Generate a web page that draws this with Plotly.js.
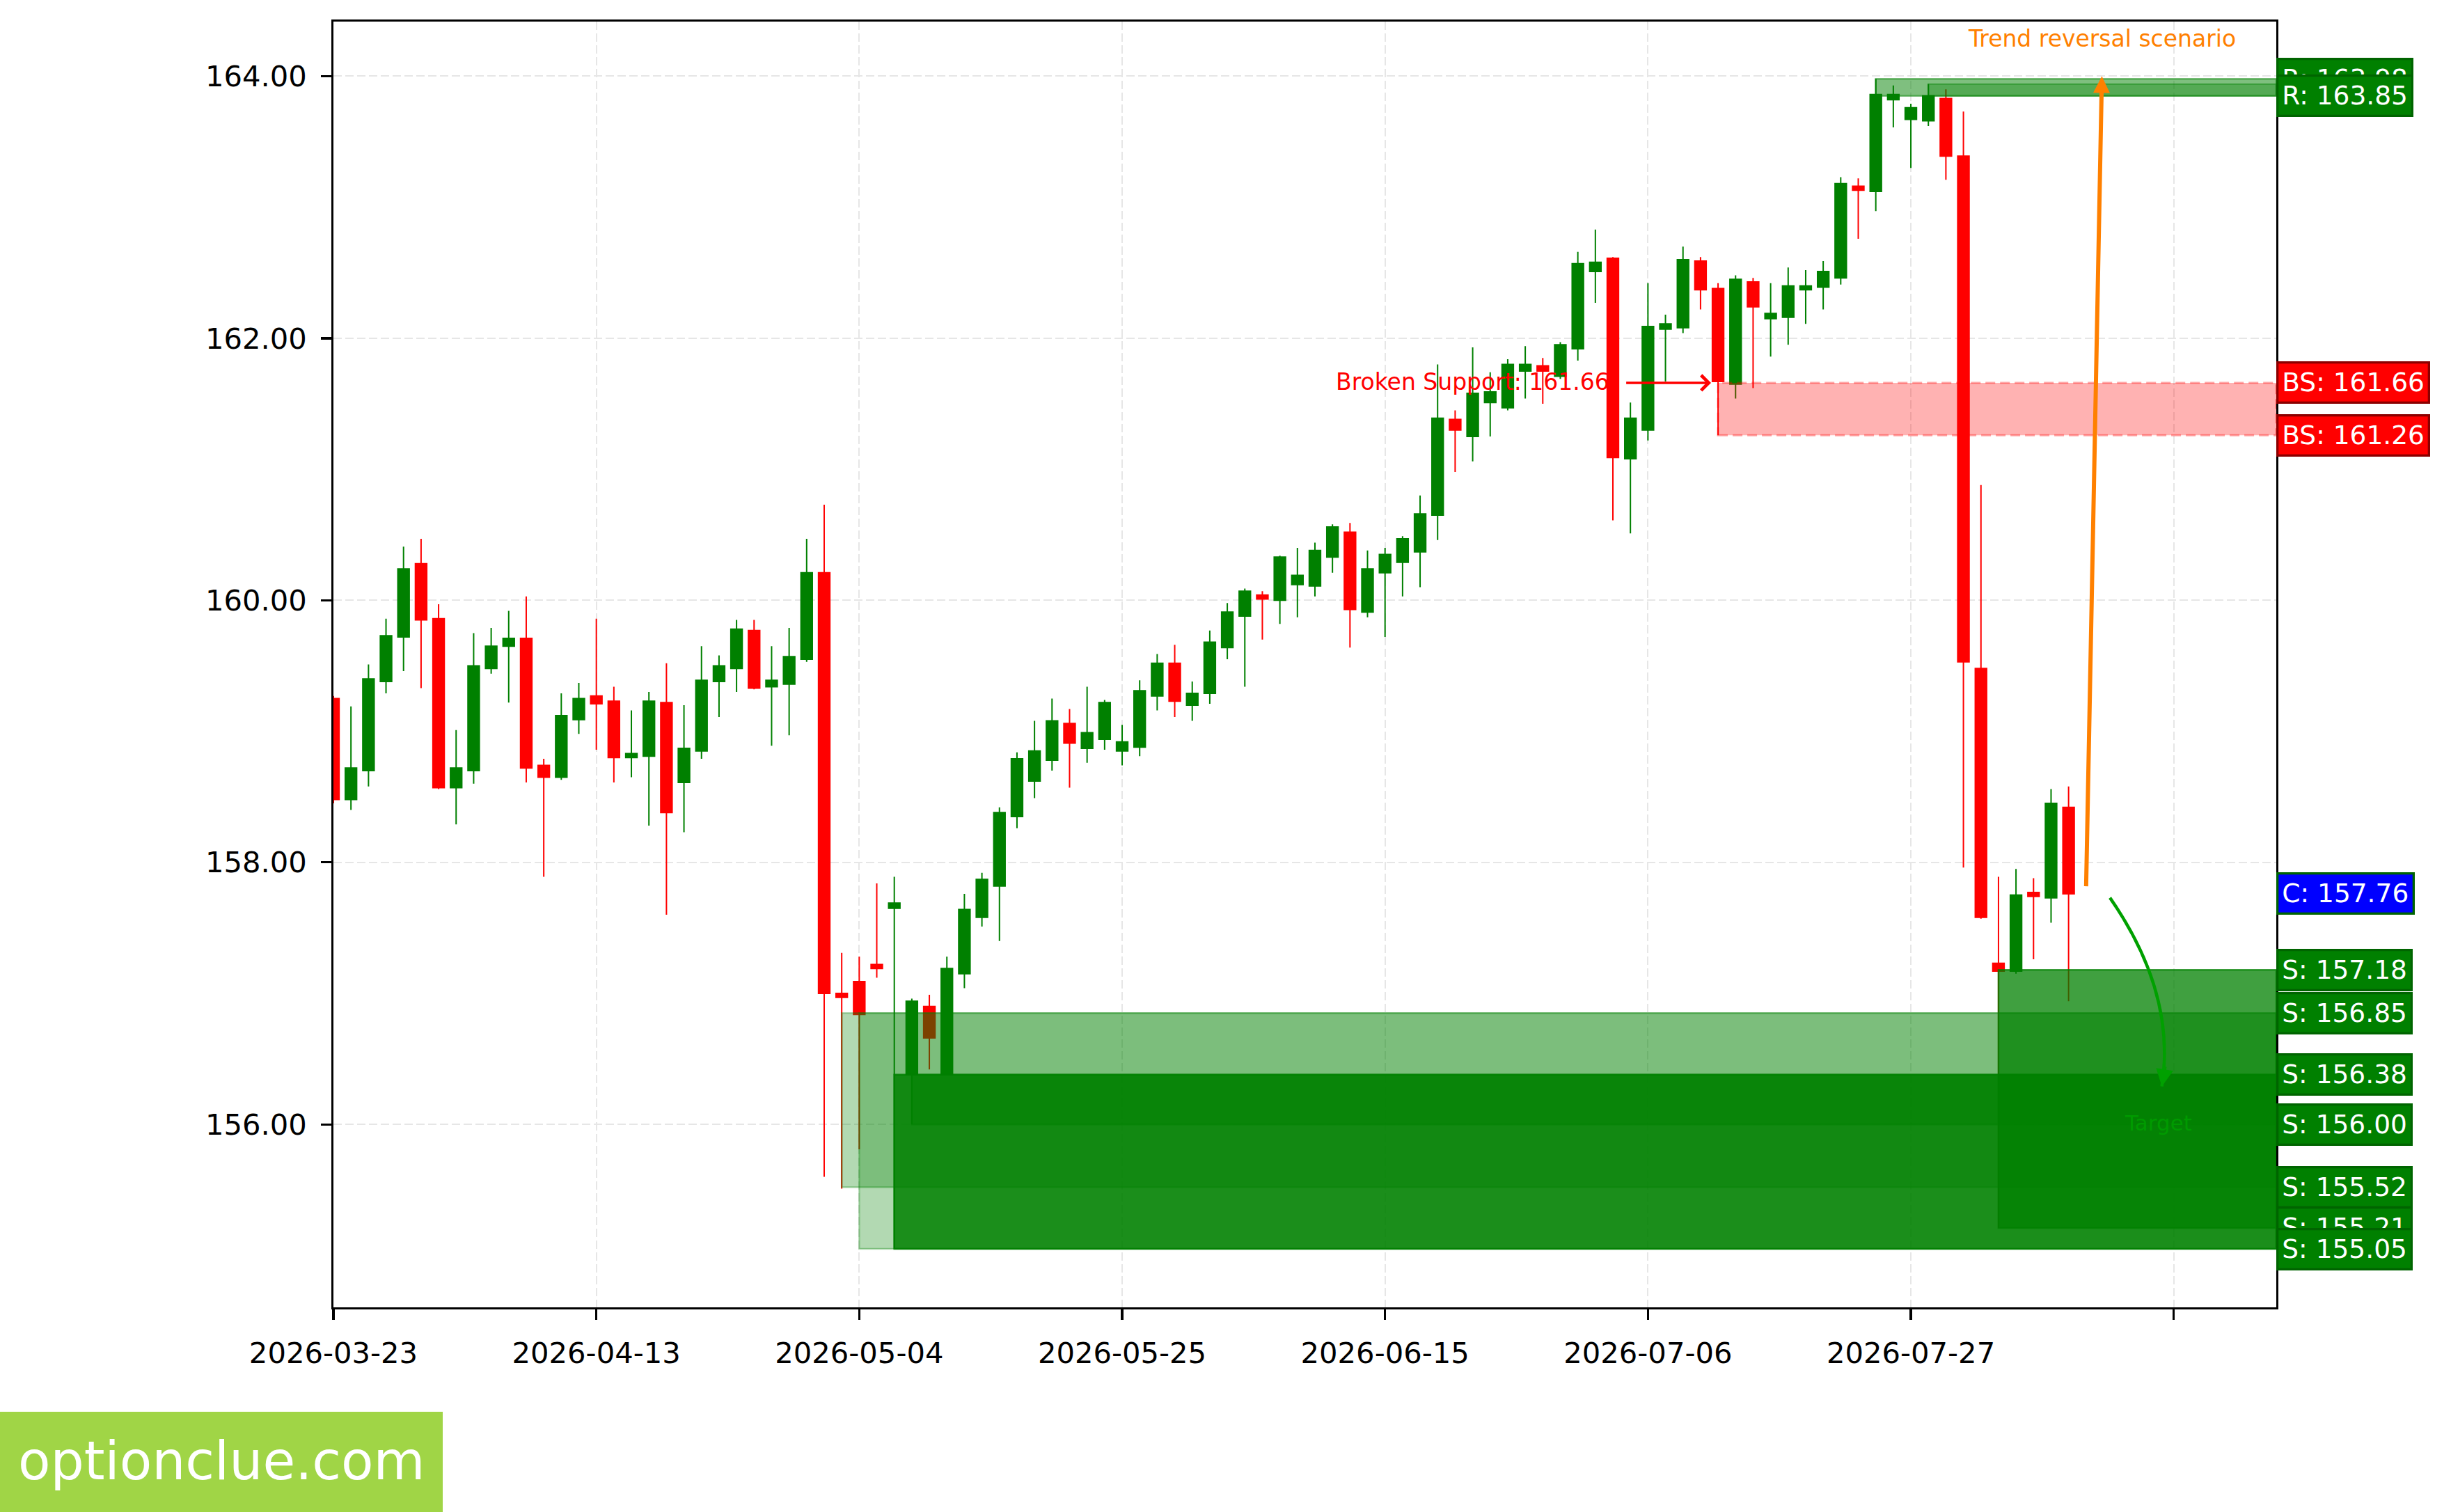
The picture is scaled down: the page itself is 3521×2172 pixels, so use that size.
<!DOCTYPE html>
<html>
<head>
<meta charset="utf-8">
<script src="https://cdn.plot.ly/plotly-3.0.1.min.js"></script>
<style>
  html, body { margin: 0; padding: 0; background: #ffffff; }
  #plot { width: 3521px; height: 2172px; }
</style>
</head>
<body>
<div id="plot"></div>
<script>
// ---------------- DATA ----------------
const dates = [
  '2026-03-23','2026-03-24','2026-03-25','2026-03-26','2026-03-27',
  '2026-03-30','2026-03-31','2026-04-01','2026-04-02','2026-04-03',
  '2026-04-06','2026-04-07','2026-04-08','2026-04-09','2026-04-10',
  '2026-04-13','2026-04-14','2026-04-15','2026-04-16','2026-04-17',
  '2026-04-20','2026-04-21','2026-04-22','2026-04-23','2026-04-24',
  '2026-04-27','2026-04-28','2026-04-29','2026-04-30','2026-05-01',
  '2026-05-04','2026-05-05','2026-05-06','2026-05-07','2026-05-08',
  '2026-05-11','2026-05-12','2026-05-13','2026-05-14','2026-05-15',
  '2026-05-18','2026-05-19','2026-05-20','2026-05-21','2026-05-22',
  '2026-05-25','2026-05-26','2026-05-27','2026-05-28','2026-05-29',
  '2026-06-01','2026-06-02','2026-06-03','2026-06-04','2026-06-05',
  '2026-06-08','2026-06-09','2026-06-10','2026-06-11','2026-06-12',
  '2026-06-15','2026-06-16','2026-06-17','2026-06-18','2026-06-19',
  '2026-06-22','2026-06-23','2026-06-24','2026-06-25','2026-06-26',
  '2026-06-29','2026-06-30','2026-07-01','2026-07-02','2026-07-03',
  '2026-07-06','2026-07-07','2026-07-08','2026-07-09','2026-07-10',
  '2026-07-13','2026-07-14','2026-07-15','2026-07-16','2026-07-17',
  '2026-07-20','2026-07-21','2026-07-22','2026-07-23','2026-07-24',
  '2026-07-27','2026-07-28','2026-07-29','2026-07-30','2026-07-31',
  '2026-08-03','2026-08-04','2026-08-05','2026-08-06','2026-08-07'
];

const opens = [
  159.25,158.48,158.70,159.38,159.72,160.28,159.86,158.57,158.70,159.48,
  159.65,159.71,158.74,158.65,159.09,159.27,159.23,158.80,158.81,159.22,
  158.61,158.85,159.38,159.48,159.77,159.34,159.36,159.55,160.21,157.00,
  157.09,157.22,157.65,156.38,156.90,156.38,157.15,157.58,157.82,158.35,
  158.62,158.78,159.06,158.87,158.94,158.85,158.88,159.27,159.52,159.20,
  159.29,159.64,159.88,160.04,160.00,160.12,160.11,160.33,160.52,159.91,
  160.21,160.29,160.37,160.65,161.38,161.25,161.51,161.47,161.75,161.79,
  161.71,161.92,162.51,162.61,161.08,161.30,162.07,162.08,162.59,162.38,
  161.65,162.43,162.15,162.16,162.37,162.39,162.46,163.16,163.12,163.82,
  163.67,163.66,163.83,163.39,159.48,157.23,157.17,157.77,157.73,158.42
];
const highs = [
  159.27,159.19,159.51,159.86,160.41,160.47,159.97,159.01,159.75,159.79,
  159.92,160.03,158.79,159.29,159.37,159.86,159.34,159.16,159.30,159.52,
  159.20,159.65,159.58,159.85,159.85,159.65,159.79,160.47,160.73,157.31,
  157.28,157.84,157.89,156.96,156.99,157.28,157.76,157.92,158.42,158.84,
  159.08,159.25,159.17,159.34,159.24,159.05,159.39,159.59,159.66,159.38,
  159.77,159.98,160.09,160.07,160.34,160.40,160.44,160.58,160.59,160.38,
  160.40,160.49,160.80,161.80,161.45,161.93,161.74,161.84,161.94,161.85,
  161.97,162.66,162.83,162.62,161.51,162.42,162.18,162.70,162.62,162.42,
  162.48,162.46,162.42,162.54,162.52,162.59,163.23,163.22,163.98,163.93,
  163.79,163.94,163.90,163.73,160.88,157.89,157.95,157.88,158.56,158.58
];
const lows = [
  158.45,158.40,158.58,159.29,159.46,159.33,158.56,158.29,158.60,159.44,
  159.22,158.61,157.89,158.63,158.98,158.86,158.61,158.65,158.28,157.60,
  158.23,158.79,159.11,159.30,159.32,158.89,158.97,159.53,155.60,155.51,
  155.81,157.12,155.05,156.00,156.42,156.38,157.04,157.51,157.40,158.26,
  158.49,158.70,158.57,158.76,158.86,158.74,158.81,159.16,159.11,159.08,
  159.21,159.55,159.34,159.70,159.82,159.87,160.03,160.21,159.64,159.87,
  159.72,160.03,160.10,160.46,160.98,161.06,161.25,161.45,161.54,161.50,
  161.69,161.83,162.27,160.61,160.51,161.22,161.67,162.04,162.22,161.26,
  161.54,161.62,161.86,161.95,162.11,162.22,162.41,162.76,162.97,163.61,
  163.30,163.62,163.21,157.96,157.57,155.21,157.15,157.26,157.54,156.94
];
const closes = [
  158.48,158.72,159.40,159.73,160.24,159.85,158.57,158.72,159.50,159.65,
  159.71,158.72,158.65,159.12,159.25,159.21,158.80,158.83,159.23,158.38,
  158.87,159.39,159.50,159.78,159.33,159.39,159.57,160.21,157.00,156.97,
  156.84,157.19,157.69,156.94,156.66,157.19,157.64,157.87,158.38,158.79,
  158.85,159.08,158.91,158.99,159.22,158.92,159.31,159.52,159.23,159.29,
  159.68,159.91,160.07,160.01,160.33,160.19,160.38,160.56,159.93,160.24,
  160.35,160.47,160.66,161.39,161.30,161.58,161.59,161.80,161.80,161.75,
  161.95,162.57,162.58,161.09,161.39,162.09,162.11,162.60,162.37,161.67,
  162.45,162.24,162.19,162.40,162.40,162.51,163.18,163.13,163.86,163.86,
  163.76,163.85,163.39,159.53,157.58,157.17,157.75,157.74,158.45,157.76
];

// Tick dates (every 15 sessions) plus an unlabeled tick beyond the data
const tickEvery = 15;
const extraTickLabel = '';

// Support zones: start bar index, top, bottom
const supportStart  = [29, 30, 32, 33, 95];
const supportTop    = [156.85, 156.85, 156.38, 156.38, 157.18];
const supportBottom = [155.52, 155.05, 155.05, 156.00, 155.21];

// Resistance zones
const resistStart  = [88, 91];
const resistTop    = [163.98, 163.94];
const resistBottom = [163.85, 163.85];

// Broken support zone
const brokenStart  = [79];
const brokenTop    = [161.66];
const brokenBottom = [161.26];

// Right-hand level labels
const labelKinds  = ['R','R','BS','BS','C','S','S','S','S','S','S','S'];
const labelValues = [163.98,163.85,161.66,161.26,157.76,157.18,156.85,156.38,156.00,155.52,155.21,155.05];

// Y ticks
const yTicks = [156, 158, 160, 162, 164];

// ---------------- STYLE / LAYOUT ----------------
const W = 3521, H = 2172;
const ML = 479, MR = 251, MT = 31, MB = 294;
const XMAX = 110.85;
const YMIN = 154.604, YMAX = 164.417;
const FONT = 'DejaVu Sans';

const supportAlpha = [0.3, 0.3, 0.85, 0.45, 0.75];
const resistAlpha = [0.5, 0.33];

const kindStyle = {
  'R':  {bg: '#008000', border: '#006400'},
  'S':  {bg: '#008000', border: '#006400'},
  'BS': {bg: '#ff0000', border: '#8b0000'},
  'C':  {bg: '#0000ff', border: '#006400'}
};

function pxX(px) { return (px - ML) / (W - ML - MR); }
function pxY(py) { return (H - MB - py) / (H - MT - MB); }

const xIdx = dates.map((d, i) => i);
const tickVals = [];
const tickText = [];
for (let i = 0; i < dates.length; i += tickEvery) { tickVals.push(i); tickText.push(dates[i]); }
tickVals.push(dates.length + tickEvery - (dates.length % tickEvery || tickEvery) );
tickText.push(extraTickLabel);

const trace = {
  type: 'candlestick',
  x: xIdx,
  open: opens, high: highs, low: lows, close: closes,
  increasing: {line: {color: '#008000', width: 2}, fillcolor: '#008000'},
  decreasing: {line: {color: '#ff0000', width: 2}, fillcolor: '#ff0000'},
  whiskerwidth: 0,
  hoverinfo: 'skip',
  showlegend: false
};

const shapes = [];
// Broken support zone
brokenStart.forEach((s, i) => {
  shapes.push({
    type: 'rect', xref: 'x', yref: 'y', layer: 'above',
    x0: s, x1: XMAX, y0: brokenBottom[i], y1: brokenTop[i],
    fillcolor: 'rgba(255,0,0,0.3)',
    line: {color: 'rgba(255,0,0,0.35)', width: 3, dash: '14px,7px'}
  });
});
// Resistance zones
resistStart.forEach((s, i) => {
  const c = 'rgba(0,128,0,' + resistAlpha[i] + ')';
  shapes.push({
    type: 'rect', xref: 'x', yref: 'y', layer: 'above',
    x0: s, x1: XMAX, y0: resistBottom[i], y1: resistTop[i],
    fillcolor: c, line: {color: c, width: 2.5}
  });
});
// Support zones
supportStart.forEach((s, i) => {
  const c = 'rgba(0,128,0,' + supportAlpha[i] + ')';
  shapes.push({
    type: 'rect', xref: 'x', yref: 'y', layer: 'above',
    x0: s, x1: XMAX, y0: supportBottom[i], y1: supportTop[i],
    fillcolor: c, line: {color: c, width: 2.5}
  });
});
// Curved target arrow (quadratic path)
const curveP0 = [101.36, 157.73], curveP1 = [105.15, 157.0], curveP2 = [104.32, 156.29];
shapes.push({
  type: 'path', xref: 'x', yref: 'y', layer: 'above',
  path: 'M ' + curveP0[0] + ',' + curveP0[1] + ' Q ' + curveP1[0] + ',' + curveP1[1] + ' ' + curveP2[0] + ',' + curveP2[1],
  line: {color: '#00a000', width: 4.5}
});
// Watermark box
shapes.push({
  type: 'rect', xref: 'paper', yref: 'paper', layer: 'above',
  x0: pxX(0), x1: pxX(636), y0: pxY(2172), y1: pxY(2028),
  fillcolor: '#a0d546', line: {width: 0}
});

const annotations = [];
// Broken support text + arrow
annotations.push({
  xref: 'x', yref: 'y', x: 72.9, y: 161.67, xanchor: 'right', yanchor: 'middle',
  text: 'Broken Support: 161.66', showarrow: false,
  font: {family: FONT, size: 33, color: '#ff0000'}
});
annotations.push({
  xref: 'x', yref: 'y', x: 78.6, y: 161.66, axref: 'x', ayref: 'y', ax: 73.7, ay: 161.66,
  text: '', showarrow: true, arrowhead: 4, arrowsize: 1.2, arrowwidth: 3.5, arrowcolor: '#ff0000',
  standoff: 0, startstandoff: 0
});
// Trend reversal arrow + text
annotations.push({
  xref: 'x', yref: 'y', x: 100.9, y: 164.0, axref: 'x', ayref: 'y', ax: 100.0, ay: 157.81,
  text: '', showarrow: true, arrowhead: 2, arrowsize: 0.8, arrowwidth: 6, arrowcolor: '#ff8000',
  standoff: 0, startstandoff: 0
});
annotations.push({
  xref: 'x', yref: 'y', x: 100.9, y: 164.285, xanchor: 'center', yanchor: 'middle',
  text: 'Trend reversal scenario', showarrow: false,
  font: {family: FONT, size: 33, color: '#ff8000'}
});
// Target arrowhead + text
annotations.push({
  xref: 'x', yref: 'y', x: curveP2[0], y: curveP2[1], ax: 5, ay: -30,
  text: '', showarrow: true, arrowhead: 2, arrowsize: 1.1, arrowwidth: 4.5, arrowcolor: '#00a000',
  standoff: 0, startstandoff: 0
});
annotations.push({
  xref: 'x', yref: 'y', x: 104.1, y: 156.01, xanchor: 'center', yanchor: 'middle',
  text: 'Target', showarrow: false,
  font: {family: FONT, size: 31, color: '#009a00'}
});
// Level labels on the right
labelKinds.forEach((k, i) => {
  const st = kindStyle[k];
  annotations.push({
    xref: 'paper', yref: 'y', x: 1, y: labelValues[i], xanchor: 'left', yanchor: 'middle',
    text: k + ': ' + labelValues[i].toFixed(2), showarrow: false,
    font: {family: FONT, size: 37.5, color: '#ffffff'},
    bgcolor: st.bg, bordercolor: st.border, borderwidth: 3.3, borderpad: 5
  });
});
// Watermark text
annotations.push({
  xref: 'paper', yref: 'paper', x: pxX(318), y: pxY(2098), xanchor: 'center', yanchor: 'middle',
  text: 'optionclue.com', showarrow: false,
  font: {family: FONT, size: 76, color: '#ffffff'}
});

const axisCommon = {
  showline: true, linecolor: '#000000', linewidth: 3.3, mirror: true,
  ticks: 'outside', ticklen: 14.6, tickwidth: 3.3, tickcolor: '#000000',
  showgrid: true, gridcolor: '#e6e6e6', gridwidth: 2, griddash: '12px,5px',
  zeroline: false,
  tickfont: {family: FONT, size: 41.7, color: '#000000'}
};

const layout = {
  width: W, height: H,
  margin: {l: ML, r: MR, t: MT, b: MB, pad: 0},
  paper_bgcolor: '#ffffff', plot_bgcolor: '#ffffff',
  showlegend: false, hovermode: false,
  boxgap: 0.35, boxgroupgap: 0,
  xaxis: Object.assign({}, axisCommon, {
    range: [0, XMAX], tickmode: 'array', tickvals: tickVals, ticktext: tickText,
    rangeslider: {visible: false}, ticklabelstandoff: 12
  }),
  yaxis: Object.assign({}, axisCommon, {
    range: [YMIN, YMAX], tickmode: 'array', tickvals: yTicks,
    ticktext: yTicks.map(v => v.toFixed(2)), ticklabelstandoff: 12
  }),
  shapes: shapes,
  annotations: annotations
};

Plotly.newPlot('plot', [trace], layout, {staticPlot: true, displayModeBar: false});
</script>
</body>
</html>
